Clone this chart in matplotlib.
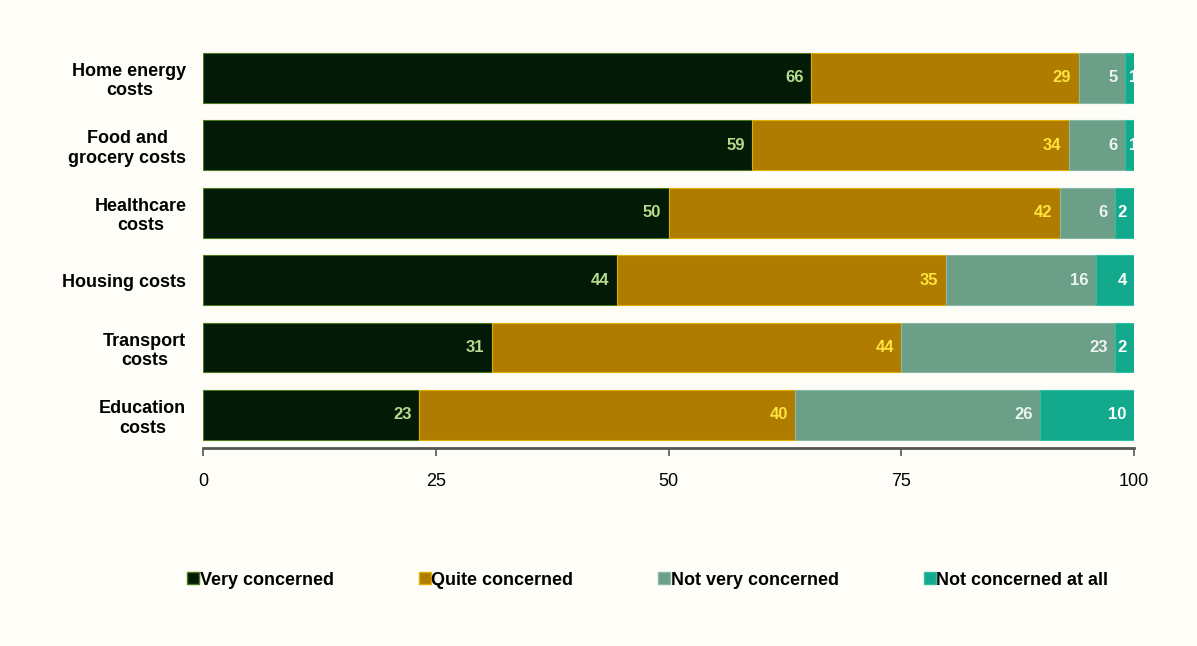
import matplotlib.pyplot as plt
from matplotlib.lines import Line2D

categories = ['Home energy\ncosts', 'Food and\ngrocery costs', 'Healthcare\ncosts',
              'Housing costs', 'Transport\ncosts', 'Education\ncosts']
very = [66, 59, 50, 44, 31, 23]
quite = [29, 34, 42, 35, 44, 40]
not_very = [5, 6, 6, 16, 23, 26]
not_at_all = [1, 1, 2, 4, 2, 10]
series_names = ['Very concerned', 'Quite concerned', 'Not very concerned', 'Not concerned at all']
ticks = [0, 25, 50, 75, 100]

colors = ['#021a06', '#b07c00', '#6b9f88', '#12a98c']
edge_colors = ['#4a7a1a', '#e0b000', '#8ab8a4', '#30c0a0']
label_colors = ['#b6dc8c', '#ffe23c', '#eef4f0', '#ffffff']

plt.rcParams['font.family'] = ['Liberation Sans', 'DejaVu Sans']

fig = plt.figure(figsize=(11.97, 6.46), dpi=100, facecolor='#fffdf8')
ax = fig.add_axes([0.1696, 0.3065, 0.7778, 0.6254])
ax.set_facecolor('#fffdf8')

# rows are rounded percentages, scale each row so it fills 0-100
series = [very, quite, not_very, not_at_all]
totals = [sum(s[i] for s in series) for i in range(len(categories))]

y = list(range(len(categories)))
left = [0.0] * len(categories)
for vals, c, ec, lc in zip(series, colors, edge_colors, label_colors):
    widths = [v * 100.0 / t for v, t in zip(vals, totals)]
    ax.barh(y, widths, left=left, height=0.74, color=c, edgecolor=ec, linewidth=0.8)
    for i, v in enumerate(vals):
        end = left[i] + widths[i]
        xpos = end - 0.8 if v > 1 else 100.4
        ax.text(xpos, i, str(v), ha='right', va='center', color=lc,
                fontsize=12, fontweight='bold', clip_on=True)
    left = [l + w for l, w in zip(left, widths)]

ax.set_xlim(0, 100)
ax.set_ylim(5.49, -0.5)
ax.set_yticks(y)
ax.set_yticklabels(categories, fontsize=13, fontweight='bold', linespacing=1.2,
                   multialignment='center')
ax.tick_params(axis='y', length=0, pad=12)
ax.set_xticks(ticks)
ax.set_xticklabels([str(t) for t in ticks], fontsize=13)
ax.tick_params(axis='x', length=6, width=1.2, color='#555555', pad=12)

for s in ['top', 'right', 'left']:
    ax.spines[s].set_visible(False)
ax.spines['bottom'].set_color('#555555')
ax.spines['bottom'].set_linewidth(2)

handles = [Line2D([0], [0], marker='s', linestyle='', markersize=8, markerfacecolor=c,
                  markeredgecolor=ec) for c, ec in zip(colors, edge_colors)]
leg = fig.legend(handles, series_names, loc='center', bbox_to_anchor=(0.541, 0.102),
                 ncol=4, frameon=False, columnspacing=4.7, handletextpad=0.0,
                 handlelength=0.7, prop={'size': 13, 'weight': 'bold'})

fig.savefig('out.png', dpi=100, facecolor=fig.get_facecolor())
